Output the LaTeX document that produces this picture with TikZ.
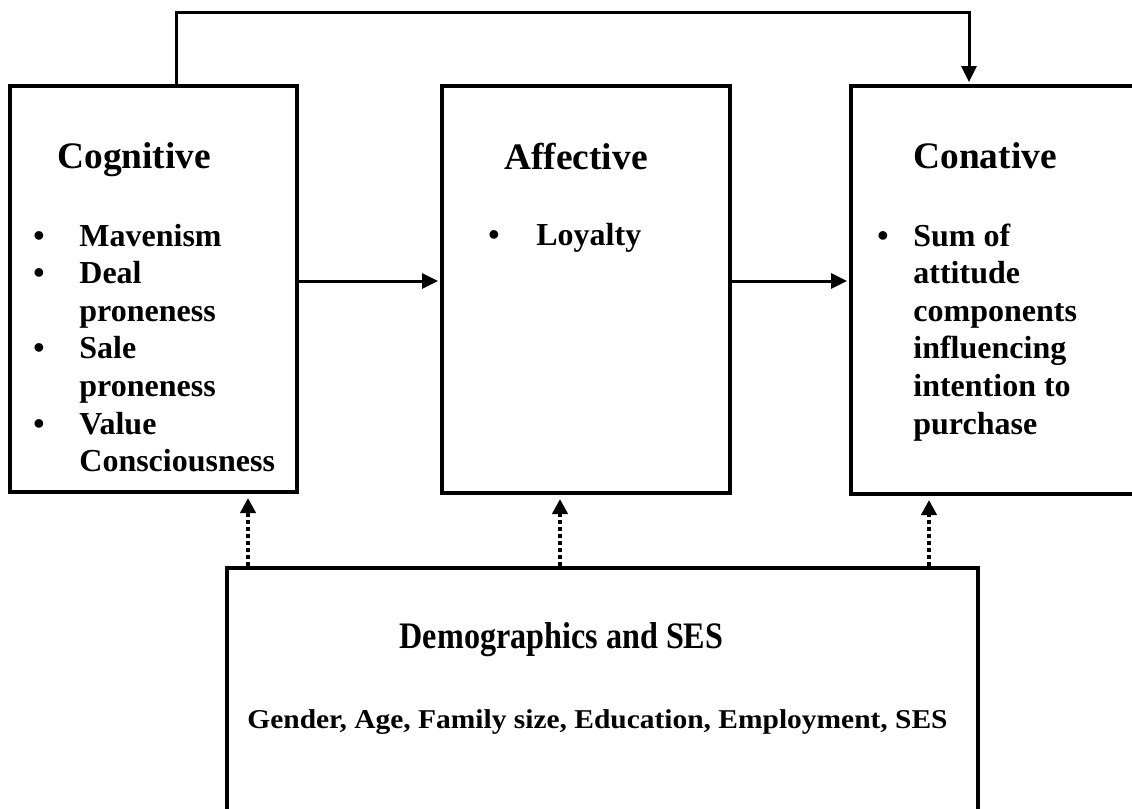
\documentclass[tikz,border=0pt]{standalone}
\usepackage{fontspec}
\setmainfont{Liberation Serif}
\usetikzlibrary{arrows.meta}

\begin{document}
\begin{tikzpicture}
[
x=0.5pt, y=-0.5pt,
box/.style={draw, line width=2pt, inner sep=0pt},
arr/.style={-{Triangle[width=7.5pt,length=8pt]}, line width=1.5pt},
dotarr/.style={-{Triangle[width=7.5pt,length=7.5pt]}, line width=2pt, dash pattern=on 2pt off 1.5pt},
head/.style={inner sep=0pt, anchor=base west, font=\fontsize{18.7}{22}\selectfont\bfseries},
item/.style={inner sep=0pt, anchor=base west, font=\fontsize{16}{19}\selectfont\bfseries},
small/.style={inner sep=0pt, anchor=base, font=\fontsize{13.6}{16}\selectfont\bfseries}
]
\useasboundingbox (0,0) rectangle (1132,809);

% the three boxes and the one below
\node[box, minimum width=143.5pt, minimum height=203pt] (cog) at (153.5,289) {};
\node[box, minimum width=144pt, minimum height=203.5pt] (aff) at (586,289.5) {};
\node[box, minimum width=159.5pt, minimum height=204pt] (con) at (1010.5,290) {};
\node[box, minimum width=375.5pt, minimum height=136pt] (demo) at (602.5,704) {};

% cognitive
\node[head] (coghead) at (57,168) {Cognitive};
\node[item] (b1) at (33,246) {•};
\node[item] (mav) at (79,246) {Mavenism};
\node[item] (b2) at (33,283.6) {•};
\node[item] (deal) at (79,283.6) {Deal};
\node[item] (deal2) at (79,321.2) {proneness};
\node[item] (b3) at (33,358.8) {•};
\node[item] (sale) at (79,358.8) {Sale};
\node[item] (sale2) at (79,396.4) {proneness};
\node[item] (b4) at (33,434) {•};
\node[item] (val) at (79,434) {Value};
\node[item] (val2) at (79,471.6) {Consciousness};

% affective
\node[head] (affhead) at (504,169) {Affective};
\node[item] (b5) at (488,245) {•};
\node[item] (loy) at (536,245) {Loyalty};

% conative
\node[head] (conhead) at (913,168) {Conative};
\node[item] (b6) at (877,246) {•};
\node[item] (sum) at (913,246) {Sum of};
\node[item] (sum2) at (913,283.6) {attitude};
\node[item] (sum3) at (913,321.2) {components};
\node[item] (sum4) at (913,358.8) {influencing};
\node[item] (sum5) at (913,396.4) {intention to};
\node[item] (sum6) at (913,434) {purchase};

% demographics
\node[head, anchor=base] (demohead) at (561.5,648) {\scalebox{0.86}[1]{Demographics and SES}};
\node[small] (demolist) at (597.5,728) {\scalebox{1.083}[1]{Gender, Age, Family size, Education, Employment, SES}};

% connectors
\coordinate (topline) at (500,12);
\draw[arr, shorten >=1pt] ([xshift=84pt]cog.north west) |- (topline) -| ([xshift=60pt]con.north west);
\draw[arr, shorten >=1pt] ([yshift=4pt]cog.east) -- ([yshift=4pt]cog.east -| aff.west);
\draw[arr, shorten >=1pt] ([yshift=4.25pt]aff.east) -- ([yshift=4.25pt]aff.east -| con.west);

\coordinate (d1) at ([xshift=11.5pt]demo.north west);
\coordinate (d2) at ([xshift=167.5pt]demo.north west);
\coordinate (d3) at ([xshift=352pt]demo.north west);
\draw[dotarr, shorten >=2pt] (d1) -- (d1 |- cog.south);
\draw[dotarr, shorten >=2pt] (d2) -- (d2 |- aff.south);
\draw[dotarr, shorten >=2pt] (d3) -- (d3 |- con.south);
\end{tikzpicture}
\end{document}
